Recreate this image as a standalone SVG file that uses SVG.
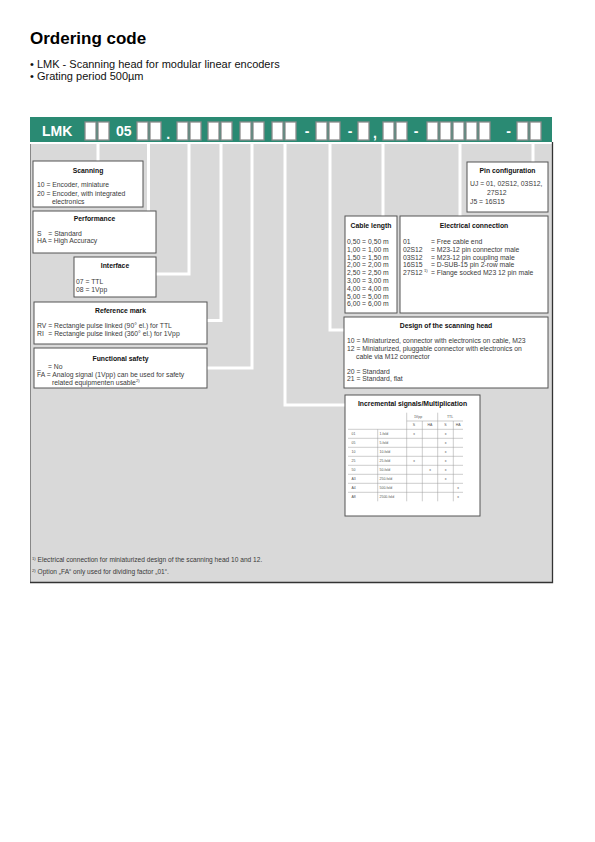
<svg xmlns="http://www.w3.org/2000/svg" width="595" height="842" viewBox="0 0 595 842">
<style>
text{font-family:"Liberation Sans",Arial,Helvetica,sans-serif}
.tt{font-size:17px;font-weight:bold;fill:#000}
.bl{font-size:11px;fill:#111}
.box{fill:#fff;stroke:#555;stroke-width:1}
.h{font-size:6.8px;font-weight:bold;fill:#111;text-anchor:middle}
.t{font-size:6.8px;fill:#3a3a3a}
.cb{fill:#fff;stroke:#8c8c8c;stroke-width:1.3}
.bw{font-size:14px;font-weight:bold;fill:#fff}
.wl{stroke:#fff;stroke-width:3;fill:none;stroke-linejoin:miter}
.tl{stroke:#9a9a9a;stroke-width:0.5}
.s{font-size:3.5px;fill:#555}
.sc{font-size:3.5px;fill:#555;text-anchor:middle}
.sup{font-size:4.2px}
</style>

<text class="tt" x="30" y="44">Ordering code</text>
<text class="bl" x="30" y="68">• LMK - Scanning head for modular linear encoders</text>
<text class="bl" x="30" y="80">• Grating period 500µm</text>

<g id="background">
<rect x="30" y="144" width="523" height="439" fill="#d9d9d9"/>
<path d="M30.5 144 V582.5" stroke="#888" stroke-width="1" fill="none"/>
<path d="M30 582.5 H552.5 V142" stroke="#333" stroke-width="1.3" fill="none"/>
</g>

<g id="code-bar">
<rect x="30" y="117" width="522" height="25" fill="#2a8a73"/>
<text class="bw" x="42" y="136">LMK</text>
<rect class="cb" x="85" y="122" width="11" height="18"/>
<rect class="cb" x="98" y="122" width="11" height="18"/>
<text class="bw" x="116" y="136">05</text>
<rect class="cb" x="137" y="122" width="11" height="18"/>
<rect class="cb" x="150" y="122" width="11" height="18"/>
<text class="bw" x="168.3" y="139" text-anchor="middle">.</text>
<rect class="cb" x="177" y="122" width="11" height="18"/>
<rect class="cb" x="190" y="122" width="11" height="18"/>
<rect class="cb" x="208" y="122" width="11" height="18"/>
<rect class="cb" x="221" y="122" width="11" height="18"/>
<rect class="cb" x="240" y="122" width="11" height="18"/>
<rect class="cb" x="253" y="122" width="11" height="18"/>
<rect class="cb" x="272" y="122" width="11" height="18"/>
<rect class="cb" x="285" y="122" width="11" height="18"/>
<text class="bw" x="307" y="136" text-anchor="middle">-</text>
<rect class="cb" x="316" y="122" width="11" height="18"/>
<rect class="cb" x="329" y="122" width="11" height="18"/>
<text class="bw" x="350" y="136" text-anchor="middle">-</text>
<rect class="cb" x="358" y="122" width="11" height="18"/>
<text class="bw" x="375" y="138" text-anchor="middle">,</text>
<rect class="cb" x="383" y="122" width="11" height="18"/>
<rect class="cb" x="396" y="122" width="11" height="18"/>
<text class="bw" x="416" y="136" text-anchor="middle">-</text>
<rect class="cb" x="427" y="122" width="11" height="18"/>
<rect class="cb" x="440" y="122" width="11" height="18"/>
<rect class="cb" x="453" y="122" width="11" height="18"/>
<rect class="cb" x="466" y="122" width="11" height="18"/>
<rect class="cb" x="479" y="122" width="11" height="18"/>
<text class="bw" x="508.5" y="136" text-anchor="middle">-</text>
<rect class="cb" x="517" y="122" width="11" height="18"/>
<rect class="cb" x="530" y="122" width="11" height="18"/>
</g>

<g id="connectors">
<path class="wl" d="M98 144 V161"/>
<path class="wl" d="M148.5 144 V211"/>
<path class="wl" d="M189 144 V274 H156"/>
<path class="wl" d="M221 144 V320.5 H207"/>
<path class="wl" d="M252 144 V368 H207"/>
<path class="wl" d="M285 144 V405 H345"/>
<path class="wl" d="M330 144 V330 H344"/>
<path class="wl" d="M383 144 V216"/>
<path class="wl" d="M460 144 V216"/>
<path class="wl" d="M533 144 V162"/>
</g>

<g id="scanning">
<rect class="box" x="33" y="161" width="110" height="46"/>
<text class="h" x="88" y="172.5">Scanning</text>
<text class="t" x="37" y="187">10 = Encoder, miniature</text>
<text class="t" x="37" y="195.5">20 = Encoder, with integrated</text>
<text class="t" x="52" y="204">electronics</text>
</g>

<g id="performance">
<rect class="box" x="33" y="211" width="123" height="42"/>
<text class="h" x="94.5" y="220.5">Performance</text>
<text class="t" x="37" y="235.5">S</text>
<text class="t" x="48.3" y="235.5">= Standard</text>
<text class="t" x="37" y="243">HA = High Accuracy</text>
</g>

<g id="interface">
<rect class="box" x="74" y="257" width="82" height="40"/>
<text class="h" x="115" y="268">Interface</text>
<text class="t" x="76" y="284">07 = TTL</text>
<text class="t" x="76" y="291.5">08 = 1Vpp</text>
</g>

<g id="reference-mark">
<rect class="box" x="34" y="302" width="173" height="42"/>
<text class="h" x="120.5" y="313">Reference mark</text>
<text class="t" x="37" y="328">RV = Rectangle pulse linked (90° el.) for TTL</text>
<text class="t" x="37" y="335.5">RI</text>
<text class="t" x="48.3" y="335.5">= Rectangle pulse linked (360° el.) for 1Vpp</text>
</g>

<g id="functional-safety">
<rect class="box" x="34" y="348" width="173" height="40"/>
<text class="h" x="120.5" y="360.5">Functional safety</text>
<text class="t" x="37" y="369">_</text>
<text class="t" x="48" y="369">= No</text>
<text class="t" x="37" y="377">FA = Analog signal (1Vpp) can be used for safety</text>
<text class="t" x="52" y="384.5">related equipmenten usable<tspan class="sup" dy="-2.5">2)</tspan></text>
</g>

<g id="pin-configuration">
<rect class="box" x="467" y="162" width="81" height="50"/>
<text class="h" x="507.5" y="173">Pin configuration</text>
<text class="t" x="470" y="185.5">UJ = 01, 02S12, 03S12,</text>
<text class="t" x="487" y="194.5">27S12</text>
<text class="t" x="470" y="203.5">J5 = 16S15</text>
</g>

<g id="cable-length">
<rect class="box" x="345" y="216" width="52" height="97"/>
<text class="h" x="371" y="228">Cable length</text>
<text class="t" x="347" y="244">0,50 = 0,50 m</text>
<text class="t" x="347" y="251.8">1,00 = 1,00 m</text>
<text class="t" x="347" y="259.6">1,50 = 1,50 m</text>
<text class="t" x="347" y="267.4">2,00 = 2,00 m</text>
<text class="t" x="347" y="275.2">2,50 = 2,50 m</text>
<text class="t" x="347" y="283">3,00 = 3,00 m</text>
<text class="t" x="347" y="290.8">4,00 = 4,00 m</text>
<text class="t" x="347" y="298.6">5,00 = 5,00 m</text>
<text class="t" x="347" y="306.4">6,00 = 6,00 m</text>
</g>

<g id="electrical-connection">
<rect class="box" x="400" y="216" width="148" height="97"/>
<text class="h" x="474" y="228">Electrical connection</text>
<text class="t" x="403" y="244">01</text>
<text class="t" x="431" y="244">= Free cable end</text>
<text class="t" x="403" y="251.8">02S12</text>
<text class="t" x="431" y="251.8">= M23-12 pin connector male</text>
<text class="t" x="403" y="259.6">03S12</text>
<text class="t" x="431" y="259.6">= M23-12 pin coupling male</text>
<text class="t" x="403" y="267.4">16S15</text>
<text class="t" x="431" y="267.4">= D-SUB-15 pin 2-row male</text>
<text class="t" x="403" y="275.2">27S12</text>
<text class="t sup" x="424" y="272">1)</text>
<text class="t" x="431" y="275.2">= Flange socked M23 12 pin male</text>
</g>

<g id="design-scanning-head">
<rect class="box" x="344" y="317" width="204" height="71"/>
<text class="h" x="446" y="327.5">Design of the scanning head</text>
<text class="t" x="347" y="343">10 = Miniaturized, connector with electronics on cable, M23</text>
<text class="t" x="347" y="351">12 = Miniaturized, pluggable connector with electronics on</text>
<text class="t" x="356" y="358.5">cable via M12 connector</text>
<text class="t" x="347" y="373.5">20 = Standard</text>
<text class="t" x="347" y="381">21 = Standard, flat</text>
</g>

<g id="incremental-signals">
<rect class="box" x="345" y="395" width="135" height="121"/>
<text class="h" x="412.5" y="406">Incremental signals/Multiplication</text>
<g class="tl">
<line x1="406.7" y1="412.7" x2="406.7" y2="501.3"/>
<line x1="437.7" y1="412.7" x2="437.7" y2="501.3"/>
<line x1="422.3" y1="421" x2="422.3" y2="501.3"/>
<line x1="453.3" y1="421" x2="453.3" y2="501.3"/>
<line x1="377.7" y1="429.3" x2="377.7" y2="501.3"/>
<line x1="406.7" y1="421" x2="463" y2="421"/>
<line x1="348" y1="429.3" x2="463" y2="429.3"/>
<line x1="348" y1="438.3" x2="463" y2="438.3"/>
<line x1="348" y1="447.3" x2="463" y2="447.3"/>
<line x1="348" y1="456.3" x2="463" y2="456.3"/>
<line x1="348" y1="465.3" x2="463" y2="465.3"/>
<line x1="348" y1="474.3" x2="463" y2="474.3"/>
<line x1="348" y1="483.3" x2="463" y2="483.3"/>
<line x1="348" y1="492.3" x2="463" y2="492.3"/>
</g>
<text class="sc" x="418" y="418">1Vpp</text>
<text class="sc" x="450" y="418">TTL</text>
<text class="sc" x="414" y="426.3">S</text>
<text class="sc" x="430" y="426.3">HA</text>
<text class="sc" x="445.5" y="426.3">S</text>
<text class="sc" x="458.2" y="426.3">HA</text>
<text class="s" x="351.5" y="434.6">01</text><text class="s" x="379.5" y="434.6">1-fold</text>
<text class="s" x="351.5" y="443.6">05</text><text class="s" x="379.5" y="443.6">5-fold</text>
<text class="s" x="351.5" y="452.6">10</text><text class="s" x="379.5" y="452.6">10-fold</text>
<text class="s" x="351.5" y="461.6">25</text><text class="s" x="379.5" y="461.6">25-fold</text>
<text class="s" x="351.5" y="470.6">50</text><text class="s" x="379.5" y="470.6">50-fold</text>
<text class="s" x="351.5" y="479.6">A3</text><text class="s" x="379.5" y="479.6">250-fold</text>
<text class="s" x="351.5" y="488.6">A4</text><text class="s" x="379.5" y="488.6">500-fold</text>
<text class="s" x="351.5" y="497.6">A8</text><text class="s" x="379.5" y="497.6">2500-fold</text>
<text class="sc" x="414" y="434.6">x</text><text class="sc" x="445.5" y="434.6">x</text>
<text class="sc" x="445.5" y="443.6">x</text>
<text class="sc" x="445.5" y="452.6">x</text>
<text class="sc" x="414" y="461.6">x</text><text class="sc" x="445.5" y="461.6">x</text>
<text class="sc" x="430" y="470.6">x</text><text class="sc" x="445.5" y="470.6">x</text>
<text class="sc" x="445.5" y="479.6">x</text>
<text class="sc" x="458.2" y="488.6">x</text>
<text class="sc" x="458.2" y="497.6">x</text>
</g>

<g id="footnotes">
<text class="t" x="32" y="562" style="font-size:6.6px"><tspan class="sup" dy="-2.2">1)</tspan><tspan dy="2.2"> Electrical connection for miniaturized design of the scanning head 10 and 12.</tspan></text>
<text class="t" x="32" y="574" style="font-size:6.6px"><tspan class="sup" dy="-2.2">2)</tspan><tspan dy="2.2"> Option „FA“ only used for dividing factor „01“.</tspan></text>
</g>
</svg>
